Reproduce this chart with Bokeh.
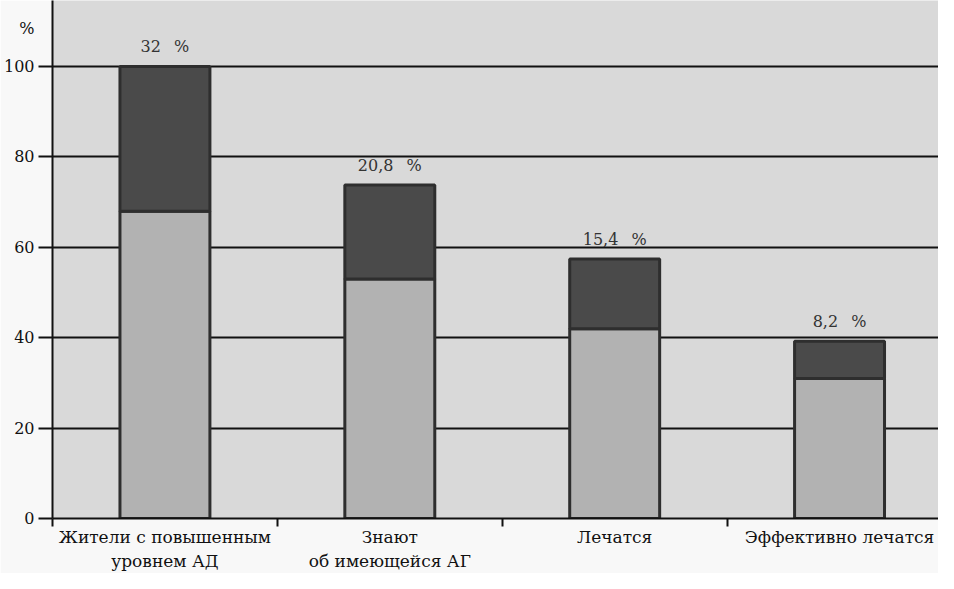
from bokeh.plotting import figure
from bokeh.models import Range1d, FixedTicker, ColumnDataSource
from bokeh.embed import file_html
from bokeh.resources import INLINE
from bokeh.core.properties import value

categories = ["Жители с повышенным\nуровнем АД", "Знают\nоб имеющейся АГ", "Лечатся", "Эффективно лечатся"]
light_values = [68, 53, 42, 31]
dark_values = [32, 20.8, 15.4, 8.2]
top_labels = ["32\u2002\u00a0%", "20,8\u2002\u00a0%", "15,4\u2002\u00a0%", "8,2\u2002\u00a0%"]
y_ticks = [0, 20, 40, 60, 80, 100]
unit_label = "%"
unit_pos = 108.5

FONT = "DejaVu Serif"
BG = "#d9d9d9"

xs = [i + 0.5 for i in range(len(categories))]
totals = [l + d for l, d in zip(light_values, dark_values)]

p = figure(width=938, height=573, output_backend="svg", toolbar_location=None,
           x_range=Range1d(0, 3.94), y_range=Range1d(0, 114.6),
           min_border_left=45, min_border_right=0, min_border_top=0, min_border_bottom=46)
p.background_fill_color = BG
p.border_fill_color = "#f8f8f8"
p.outline_line_color = None

# grid
p.xgrid.grid_line_color = None
p.ygrid.ticker = FixedTicker(ticks=[20, 40, 60, 80, 100])
p.ygrid.grid_line_color = "#111111"
p.ygrid.grid_line_width = 2

src = ColumnDataSource(dict(x=xs, light=light_values, total=totals, lab=top_labels))
p.vbar(x="x", bottom=0, top="light", width=0.40, source=src,
       fill_color="#b2b2b2", line_color="#2e2e2e", line_width=3)
p.vbar(x="x", bottom="light", top="total", width=0.40, source=src,
       fill_color="#4a4a4a", line_color="#2e2e2e", line_width=3)
p.text(x="x", y="total", text="lab", source=src, text_align="center",
       text_baseline="bottom", y_offset=-10, text_font=value(FONT),
       text_font_size="16px", text_color="#333333")

# y axis: numeric labels on major ticks (marks drawn as minor ticks), plus the unit label
ya = p.yaxis[0]
ya.ticker = FixedTicker(ticks=y_ticks + [unit_pos], minor_ticks=y_ticks)
ya.major_label_overrides = {unit_pos: unit_label}
ya.axis_line_color = "#111111"
ya.axis_line_width = 2
ya.major_tick_line_color = None
ya.major_tick_out = 14
ya.major_tick_in = 0
ya.minor_tick_line_color = "#111111"
ya.minor_tick_line_width = 2
ya.minor_tick_out = 14
ya.minor_tick_in = 0
ya.major_label_text_font = FONT
ya.major_label_text_font_size = "16px"
ya.major_label_text_color = "#111111"
ya.major_label_standoff = 4

# x axis
xa = p.xaxis[0]
xa.ticker = FixedTicker(ticks=xs, minor_ticks=[0, 1, 2, 3, 4])
xa.major_label_overrides = {x: c for x, c in zip(xs, categories)}
xa.axis_line_color = "#111111"
xa.axis_line_width = 2
xa.major_tick_line_color = None
xa.major_tick_out = 0
xa.major_tick_in = 0
xa.minor_tick_line_color = "#111111"
xa.minor_tick_line_width = 2
xa.minor_tick_out = 8
xa.minor_tick_in = 0
xa.major_label_text_font = FONT
xa.major_label_text_font_size = "17px"
xa.major_label_text_color = "#111111"
xa.major_label_standoff = 0

open("out.html", "w").write(file_html(p, INLINE))
